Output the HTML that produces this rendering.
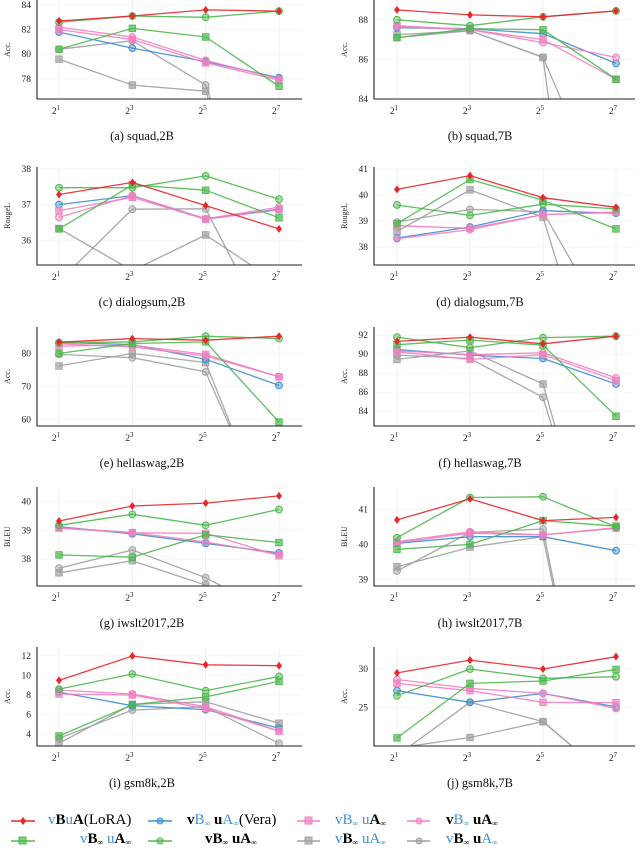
<!DOCTYPE html>
<html><head><meta charset="utf-8">
<style>
html,body{margin:0;background:#fff;width:640px;height:851px;overflow:hidden;font-family:"Liberation Serif",serif;}
#chart{position:absolute;left:0;top:0;}
.leg{position:absolute;font-size:15px;white-space:nowrap;line-height:1;overflow:hidden;}
.leg span{line-height:15px}
.b{color:#3d8fcf}.k{color:#111}
.bold{font-weight:bold}
sub{font-size:8px;line-height:0;vertical-align:-2px}
</style></head>
<body>
<svg id="chart" width="640" height="810" viewBox="0 0 640 810"></svg>

<div class="leg" style="left:0;top:811px;width:640px;height:37px">
 <svg width="640" height="37" style="position:absolute;left:0;top:0">
  <g><line x1="11" y1="10" x2="35" y2="10" stroke="#e8262b" stroke-width="1.5"/><path d="M23 6 L26 10 L23 14 L20 10Z" fill="#e8262b"/></g>
  <g><line x1="148" y1="10" x2="172" y2="10" stroke="#3d8fcf" stroke-width="1.5"/><circle cx="160" cy="10" r="3" fill="#3d8fcf" fill-opacity="0.5" stroke="#3d8fcf"/></g>
  <g><line x1="297" y1="10" x2="320" y2="10" stroke="#f080c0" stroke-width="1.5"/><rect x="305" y="6" width="7" height="7" fill="#f080c0" fill-opacity="0.7" stroke="#f080c0"/></g>
  <g><line x1="407" y1="10" x2="430" y2="10" stroke="#f080c0" stroke-width="1.5"/><circle cx="419" cy="10" r="3" fill="#f080c0" fill-opacity="0.5" stroke="#f080c0"/></g>
  <g><line x1="11" y1="30" x2="35" y2="30" stroke="#4cb84c" stroke-width="1.5"/><rect x="19" y="26" width="7" height="7" fill="#4cb84c" fill-opacity="0.7" stroke="#4cb84c"/></g>
  <g><line x1="148" y1="30" x2="172" y2="30" stroke="#4cb84c" stroke-width="1.5"/><circle cx="160" cy="30" r="3" fill="#4cb84c" fill-opacity="0.5" stroke="#4cb84c"/></g>
  <g><line x1="297" y1="30" x2="320" y2="30" stroke="#a0a0a0" stroke-width="1.5"/><rect x="305" y="26" width="7" height="7" fill="#a0a0a0" fill-opacity="0.7" stroke="#a0a0a0"/></g>
  <g><line x1="407" y1="30" x2="430" y2="30" stroke="#a0a0a0" stroke-width="1.5"/><circle cx="419" cy="30" r="3" fill="#a0a0a0" fill-opacity="0.5" stroke="#a0a0a0"/></g>
 </svg>
 <span style="position:absolute;left:48px;top:2px"><span class="b">v</span><span class="bold">B</span><span class="b">u</span><span class="bold">A</span>(LoRA)</span>
 <span style="position:absolute;left:187px;top:2px"><span class="bold">v</span><span class="b">B<sub>∞</sub></span> <span class="bold">u</span><span class="b">A<sub>∞</sub></span>(Vera)</span>
 <span style="position:absolute;left:335px;top:2px"><span class="b">vB<sub>∞</sub> u</span><span class="bold">A<sub>∞</sub></span></span>
 <span style="position:absolute;left:446px;top:2px"><span class="bold">v</span><span class="b">B<sub>∞</sub></span> <span class="bold">uA<sub>∞</sub></span></span>
 <span style="position:absolute;left:80px;top:21px"><span class="b">v</span><span class="bold">B<sub>∞</sub></span> <span class="b">u</span><span class="bold">A<sub>∞</sub></span></span>
 <span style="position:absolute;left:205px;top:21px"><span class="bold">vB<sub>∞</sub> uA<sub>∞</sub></span></span>
 <span style="position:absolute;left:335px;top:21px"><span class="b">v</span><span class="bold">B<sub>∞</sub></span> <span class="b">uA<sub>∞</sub></span></span>
 <span style="position:absolute;left:446px;top:21px"><span class="b">v</span><span class="bold">B<sub>∞</sub></span> <span class="bold">u</span><span class="b">A<sub>∞</sub></span></span>
</div>

<script>
// categories (rank exponents: 2^1, 2^3, 2^5, 2^7)
const xExponents = [1, 3, 5, 7];
const seriesKeys = ["lora","vera","pink-square","pink-circle","green-square","green-circle","gray-square","gray-circle"];
const seriesColors = ["#e8262b","#3d8fcf","#f080c0","#f080c0","#4cb84c","#4cb84c","#a0a0a0","#a0a0a0"];
const seriesMarkers = ["diamond","circle","square","circle","square","circle","square","circle"];

// series values per panel (order = seriesKeys)
const squad2B = [[82.7,83.1,83.6,83.5],[81.8,80.5,79.4,78.1],[82.0,81.2,79.3,77.9],[82.2,81.4,79.5,78.0],[80.4,82.1,81.4,77.4],[82.6,83.1,83.0,83.5],[79.6,77.5,77.0,60],[80.4,81.1,77.5,60]];
const squad7B = [[88.5,88.25,88.15,88.45],[87.6,87.55,87.3,85.8],[87.7,87.5,87.0,85.0],[87.65,87.5,86.85,86.1],[87.1,87.55,87.5,85.0],[88.0,87.7,88.15,88.45],[87.25,87.45,86.1,58.7],[87.1,87.45,86.1,77.6]];
const dialog2B = [[37.28,37.62,36.97,36.32],[37.0,37.25,36.6,36.87],[36.83,37.2,36.59,36.85],[36.64,37.25,36.6,36.93],[36.32,37.55,37.4,36.63],[37.47,37.47,37.8,37.15],[36.33,35.15,36.15,34.79],[34.85,36.87,36.88,32.9]];
const dialog7B = [[40.22,40.75,39.9,39.53],[38.35,38.77,39.4,39.3],[38.82,38.72,39.25,39.35],[38.32,38.67,39.25,39.33],[38.9,40.6,39.8,38.7],[39.62,39.22,39.65,39.47],[38.6,40.2,39.15,30],[38.96,39.45,39.36,34.45]];
const hella2B = [[83.5,84.6,84.1,85.3],[83.4,82.8,78.3,70.4],[82.3,82.6,79.8,73.0],[83.0,82.1,79.3,73.0],[80.1,83.1,83.6,59.3],[83.3,83.6,85.3,84.6],[76.3,80.1,77.3,22],[79.8,78.8,74.5,24]];
const hella7B = [[91.35,91.8,91.1,91.9],[90.5,89.9,89.55,86.85],[90.25,89.45,89.95,87.2],[90.35,89.95,90.15,87.5],[91.0,91.5,90.95,83.45],[91.8,90.7,91.75,91.9],[89.45,90.35,86.85,60],[89.9,89.55,85.45,60]];
const iwslt2B = [[39.33,39.85,39.95,40.2],[39.13,38.88,38.55,38.22],[39.08,38.92,38.9,38.12],[39.1,38.93,38.6,38.17],[38.15,38.07,38.85,38.58],[39.18,39.56,39.18,39.73],[37.53,37.95,37.1,36],[37.69,38.32,37.36,36]];
const iwslt7B = [[40.7,41.3,40.68,40.77],[40.03,40.22,40.22,39.82],[40.05,40.32,40.27,40.46],[40.08,40.36,40.27,40.48],[39.86,40.0,40.68,40.52],[40.19,41.34,41.36,40.5],[39.36,39.92,40.22,30],[39.24,40.34,40.44,30]];
const gsm2B = [[9.5,12.0,11.1,11.0],[8.3,6.9,6.5,4.6],[8.1,8.0,6.6,4.3],[8.5,8.1,6.8,4.3],[3.8,7.0,7.8,9.4],[8.6,10.15,8.45,9.9],[3.05,7.05,7.3,5.1],[3.55,6.45,6.8,3.05]];
const gsm7B = [[29.5,31.15,30.0,31.6],[27.2,25.7,26.85,25.1],[28.15,27.2,25.7,25.65],[28.65,27.5,26.85,24.9],[21.1,28.15,28.45,29.95],[26.55,30.0,28.8,29.0],[19.8,21.15,23.2,15.2],[18.8,25.7,23.2,15.2]];

// tick labels per panel
const ticksSquad2B=[78,80,82,84], ticksSquad7B=[84,86,88], ticksDialog2B=[36,37,38], ticksDialog7B=[38,39,40,41];
const ticksHella2B=[60,70,80], ticksHella7B=[84,86,88,90,92], ticksIwslt2B=[38,39,40], ticksIwslt7B=[39,40,41];
const ticksGsm2B=[4,6,8,10,12], ticksGsm7B=[25,30];

const panels = [
 {id:"squad-2b",cap:"(a) squad,2B",yt:"Acc.",col:0,top:0,bot:99,dom:[76.37,84.4],data:squad2B,ticks:ticksSquad2B},
 {id:"squad-7b",cap:"(b) squad,7B",yt:"Acc.",col:1,top:0,bot:99,dom:[84,89.0],data:squad7B,ticks:ticksSquad7B},
 {id:"dialogsum-2b",cap:"(c) dialogsum,2B",yt:"RougeL",col:0,top:167,bot:265,dom:[35.31,38.05],data:dialog2B,ticks:ticksDialog2B},
 {id:"dialogsum-7b",cap:"(d) dialogsum,7B",yt:"RougeL",col:1,top:167,bot:265,dom:[37.31,41.08],data:dialog7B,ticks:ticksDialog7B},
 {id:"hellaswag-2b",cap:"(e) hellaswag,2B",yt:"Acc.",col:0,top:327,bot:426,dom:[58.1,88.1],data:hella2B,ticks:ticksHella2B},
 {id:"hellaswag-7b",cap:"(f) hellaswag,7B",yt:"Acc.",col:1,top:327,bot:426,dom:[82.42,92.87],data:hella7B,ticks:ticksHella7B},
 {id:"iwslt2017-2b",cap:"(g) iwslt2017,2B",yt:"BLEU",col:0,top:487,bot:586,dom:[37.07,40.51],data:iwslt2B,ticks:ticksIwslt2B},
 {id:"iwslt2017-7b",cap:"(h) iwslt2017,7B",yt:"BLEU",col:1,top:487,bot:586,dom:[38.81,41.64],data:iwslt7B,ticks:ticksIwslt7B},
 {id:"gsm8k-2b",cap:"(i) gsm8k,2B",yt:"Acc.",col:0,top:647,bot:746,dom:[2.77,12.92],data:gsm2B,ticks:ticksGsm2B},
 {id:"gsm8k-7b",cap:"(j) gsm8k,7B",yt:"Acc.",col:1,top:647,bot:746,dom:[20.05,32.85],data:gsm7B,ticks:ticksGsm7B}
];
const cols=[{x0:37,x1:302,t0:59,tw:220,ytx:10,cx:142},{x0:374,x1:635,t0:397,tw:219,ytx:347,cx:480}];
const NS="http://www.w3.org/2000/svg";
const svg=document.getElementById("chart");
function mk(tag,attrs,parent){const e=document.createElementNS(NS,tag);for(const k in attrs)e.setAttribute(k,attrs[k]);(parent||svg).appendChild(e);return e;}

panels.forEach((p,pi)=>{
 const c=cols[p.col];
 const xs=e=>c.t0+(e-1)/6*c.tw;
 const ys=v=>p.bot-(v-p.dom[0])/(p.dom[1]-p.dom[0])*(p.bot-p.top);
 const lo=p.dom[0];
 const g=mk("g",{});
 
 
 const cp=mk("clipPath",{id:"clip"+pi},g);
 mk("rect",{x:c.x0,y:p.top-6,width:c.x1-c.x0+4,height:p.bot-p.top+6},cp);
 xExponents.forEach(e=>{mk("line",{x1:xs(e),x2:xs(e),y1:p.top,y2:p.bot,stroke:"#e6e6e6","stroke-width":0.6},g);});
 p.ticks.forEach(t=>{mk("line",{x1:c.x0,x2:c.x1,y1:ys(t),y2:ys(t),stroke:"#efefef","stroke-width":0.5},g);});
 const sg=mk("g",{"clip-path":"url(#clip"+pi+")"},g);
 const order=[6,7,1,2,3,4,5,0];
 order.forEach(si=>{
  const vals=p.data[si], col=seriesColors[si];
  const s=mk("g",{},sg);
  
  
  // line segments clipped to the bottom of the axis range
  let d="";
  for(let i=0;i<vals.length-1;i++){
   let xa=xExponents[i],va=vals[i],xb=xExponents[i+1],vb=vals[i+1];
   if(va<lo&&vb<lo) continue;
   if(va<lo){const t=(lo-va)/(vb-va);xa=xa+t*(xb-xa);va=lo;}
   if(vb<lo){const t=(lo-vb)/(va-vb);xb=xb+t*(xa-xb);vb=lo;}
   d+=`M${xs(xa).toFixed(1)} ${ys(va).toFixed(1)}L${xs(xb).toFixed(1)} ${ys(vb).toFixed(1)}`;
  }
  if(d) mk("path",{d:d,fill:"none",stroke:col,"stroke-width":1.3,"stroke-opacity":0.9,"stroke-linejoin":"round"},s);
  vals.forEach((v,i)=>{
   if(v<lo) return;
   const x=xs(xExponents[i]),y=ys(v);let m;
   if(seriesMarkers[si]=="diamond") m=mk("path",{d:`M${x} ${y-3.5}L${x+2.6} ${y}L${x} ${y+3.5}L${x-2.6} ${y}Z`,fill:col,stroke:col,"stroke-width":0.6},s);
   else if(seriesMarkers[si]=="circle") m=mk("circle",{cx:x,cy:y,r:3.4,fill:col,"fill-opacity":0.45,stroke:col,"stroke-width":1},s);
   else m=mk("rect",{x:x-3.3,y:y-3.3,width:6.6,height:6.6,fill:col,"fill-opacity":0.7,stroke:col,"stroke-width":0.8},s);
   
   
  });
 });
 const ax=mk("path",{d:`M${c.x0} ${p.top} L${c.x0} ${p.bot} L${c.x1} ${p.bot}`,fill:"none",stroke:"#222","stroke-width":1.1},g);
 
 
 p.ticks.forEach(t=>{
  const tl=mk("text",{x:c.x0-6,y:ys(t)+3,"text-anchor":"end","font-size":9.5,fill:"#222"},g);
  tl.textContent=t;
  
  
 });
 xExponents.forEach(e=>{
  const tl=mk("text",{x:xs(e)-3,y:p.bot+15,"text-anchor":"middle","font-size":9.5,fill:"#222"},g);
  tl.textContent="2";
  const sp=mk("tspan",{dy:-4,"font-size":7},tl);sp.textContent=e;
  
  
 });
 const yc=(p.top+p.bot)/2;
 const yt=mk("text",{x:c.ytx,y:yc,transform:`rotate(-90 ${c.ytx} ${yc})`,"text-anchor":"middle","font-size":8,fill:"#222"},g);
 yt.textContent=p.yt;
 
 
 const cap=mk("text",{x:c.cx,y:p.bot+41,"text-anchor":"middle","font-size":12.5,fill:"#111"},g);
 cap.textContent=p.cap;
 
 
});
</script>
</body></html>
